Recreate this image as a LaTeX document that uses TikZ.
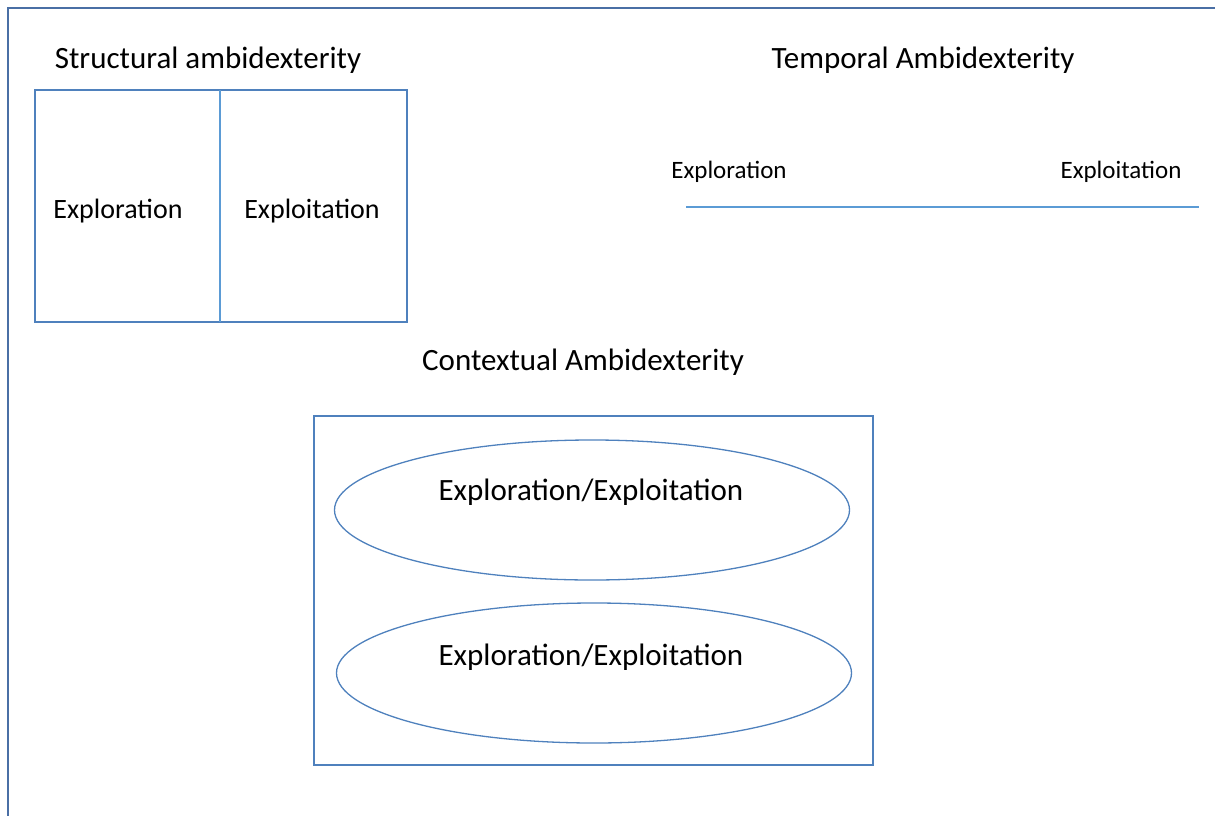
\documentclass[tikz,border=0pt]{standalone}
\usepackage{fontspec}
\setmainfont{Carlito}
\usepackage{tikz}
\usetikzlibrary{shapes.geometric,positioning}

\definecolor{frameblue}{HTML}{4A6FA5}
\definecolor{boxblue}{HTML}{4F81BD}
\definecolor{lineblue}{HTML}{5B9BD5}

\begin{document}
\begin{tikzpicture}[x=1pt,y=-1pt,
    title/.style={font=\fontsize{31}{36}\selectfont},
    label/.style={font=\fontsize{28}{33}\selectfont},
    small/.style={font=\fontsize{25}{30}\selectfont},
    box/.style={draw=boxblue, line width=1.4pt},
    oval/.style={ellipse, draw=boxblue, line width=1.3pt, minimum width=515pt, minimum height=140pt}]
    \useasboundingbox (0,0) rectangle (1215,816);

    % Outer frame
    \begin{scope}
    \clip (0,0) rectangle (1215,816);
    \draw[frameblue, line width=2pt] (8,830) -- (8,8) -- (1230,8);
    \end{scope}

    % Structural
    \node[title] (structural) at (208,60) {Structural ambidexterity};
    \draw[box] (35,90) rectangle (407,322);
    \draw[lineblue, line width=1.3pt] (220,90) -- (220,322);
    \node[label] (sexplore) at (118,211) {Exploration};
    \node[label] (sexploit) at (312,211) {Exploitation};

    % Temporal
    \node[title] (temporal) at (923,60) {Temporal Ambidexterity};
    \node[small] (texplore) at (729,172) {Exploration};
    \node[small] (texploit) at (1121,172) {Exploitation};
    \coordinate (tstart) at (686,207);
    \coordinate (tend) at (1199,207);
    \draw[lineblue, line width=1.3pt] (tstart) -- (tend);

    % Contextual
    \node[title] (contextual) at (583,362) {Contextual Ambidexterity};
    \draw[box] (314,416) rectangle (873,765);
    \node[oval] (upper) at (592,510) {};
    \node[oval] (lower) at (594,673) {};
    \node[title] (uppertext) at (591,492) {Exploration/Exploitation};
    \node[title] (lowertext) at (591,657) {Exploration/Exploitation};
\end{tikzpicture}
\end{document}
